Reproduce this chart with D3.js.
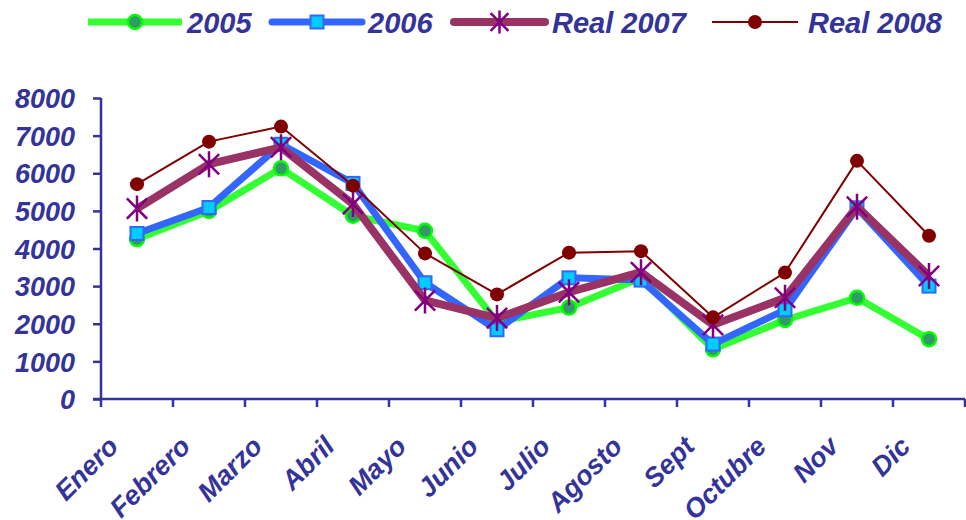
<!DOCTYPE html>
<html><head><meta charset="utf-8">
<script src="https://cdn.jsdelivr.net/npm/d3@7"></script>
<style>body{margin:0;background:#fff}text{font-family:"Liberation Sans",Arial,sans-serif;font-weight:bold;font-style:italic;fill:#333399}</style>
</head><body><svg id="c" width="966" height="520"></svg>
<script>
const months = ["Enero","Febrero","Marzo","Abril","Mayo","Junio","Julio","Agosto","Sept","Octubre","Nov","Dic"];
const s2005 = [4250,5000,6130,4870,4470,2050,2430,3220,1320,2100,2690,1590];
const s2006 = [4400,5090,6770,5730,3090,1840,3220,3160,1460,2370,5080,3000];
const s2007 = [5060,6240,6690,5180,2620,2150,2840,3370,1970,2690,5110,3270];
const s2008 = [5710,6840,7240,5670,3870,2780,3890,3930,2170,3360,6330,4340];
const yTicks = [0,1000,2000,3000,4000,5000,6000,7000,8000];
const seriesNames = ["2005","2006","Real 2007","Real 2008"];

const svg = d3.select("#c");
const C = "#333399";
const x = d3.scaleBand().domain(months).range([101,965]);
const y = d3.scaleLinear().domain([0,8000]).range([399,98]);

const series = [
 {name:seriesNames[0], vals:s2005, line:"#33FF33", w:7, marker:"circle", fill:"#339966", stroke:"#00FF00", r:7},
 {name:seriesNames[1], vals:s2006, line:"#3366FF", w:7, marker:"square", fill:"#00CCFF", stroke:"#3366FF", r:6.5},
 {name:seriesNames[2], vals:s2007, line:"#993366", w:8, marker:"star", fill:"none", stroke:"#800080", r:13},
 {name:seriesNames[3], vals:s2008, line:"#800000", w:2, marker:"dot", fill:"#800000", stroke:"#800000", r:7}
];

// axes
const ya = svg.append("g").attr("transform","translate(101,0)")
  .call(d3.axisLeft(y).tickValues(yTicks).tickSize(8).tickPadding(18).tickFormat(d3.format("d")));
ya.select(".domain").attr("stroke",C).attr("stroke-width",2.5).attr("d","M0,98V399");
ya.selectAll(".tick line").attr("stroke",C).attr("stroke-width",2.5);
ya.selectAll(".tick text").style("font-size","27px").attr("dy","0.36em").attr("fill",C);

const xa = svg.append("g").attr("transform","translate(0,399)")
  .call(d3.axisBottom(x).tickSize(0).tickFormat(""));
xa.select(".domain").attr("stroke",C).attr("stroke-width",2.5).attr("d","M93,0H965");
xa.selectAll(".tick").remove();
const bounds = months.map(m=>x(m)).concat([x.range()[1]]);
xa.selectAll("line.b").data(bounds).enter().append("line")
  .attr("x1",d=>d).attr("x2",d=>d).attr("y1",0).attr("y2",8).attr("stroke",C).attr("stroke-width",2.5);
svg.append("g").selectAll("text").data(months).enter().append("text")
  .attr("transform",d=>`translate(${x(d)+x.bandwidth()/2-17},448) rotate(-45)`)
  .attr("text-anchor","end").style("font-size","27px").text(d=>d);

const cx = d=>x(d)+x.bandwidth()/2;
function marker(g, s, px, py, scale){
  const r = s.r*(scale||1);
  if(s.marker==="circle"||s.marker==="dot"){
    g.append("circle").attr("cx",px).attr("cy",py).attr("r",r).attr("fill",s.fill).attr("stroke",s.stroke).attr("stroke-width",s.marker==="circle"?2.5:0);
  } else if(s.marker==="square"){
    g.append("rect").attr("x",px-r).attr("y",py-r).attr("width",2*r).attr("height",2*r).attr("fill",s.fill).attr("stroke",s.stroke).attr("stroke-width",2);
  } else {
    const d=r*0.78;
    g.append("path").attr("d",`M${px-d},${py-d}L${px+d},${py+d}M${px-d},${py+d}L${px+d},${py-d}M${px},${py-r}L${px},${py+r}`)
      .attr("stroke",s.stroke).attr("stroke-width",2.5).attr("fill","none");
  }
}
const line = d3.line();
series.forEach(s=>{
  const g = svg.append("g");
  const pts = months.map((m,i)=>[cx(m), y(s.vals[i])]);
  g.append("path").attr("d",line(pts)).attr("fill","none").attr("stroke",s.line).attr("stroke-width",s.w).attr("stroke-linejoin","round");
  pts.forEach(p=>marker(g,s,p[0],p[1]));
});

// legend
const legX = [[88,182,187],[272,362,368],[454,545,552],[712,798,808]];
series.forEach((s,i)=>{
  const g = svg.append("g");
  const [a,b,t]=legX[i];
  g.append("line").attr("x1",a).attr("x2",b).attr("y1",22).attr("y2",22).attr("stroke",s.line).attr("stroke-width",s.w).attr("stroke-linecap", i===1||i===2?"round":"butt");
  marker(g,s,(a+b)/2,22, i===2?0.88:1);
  g.append("text").attr("x",t).attr("y",33).style("font-size","29px").text(s.name);
});
</script></body></html>
